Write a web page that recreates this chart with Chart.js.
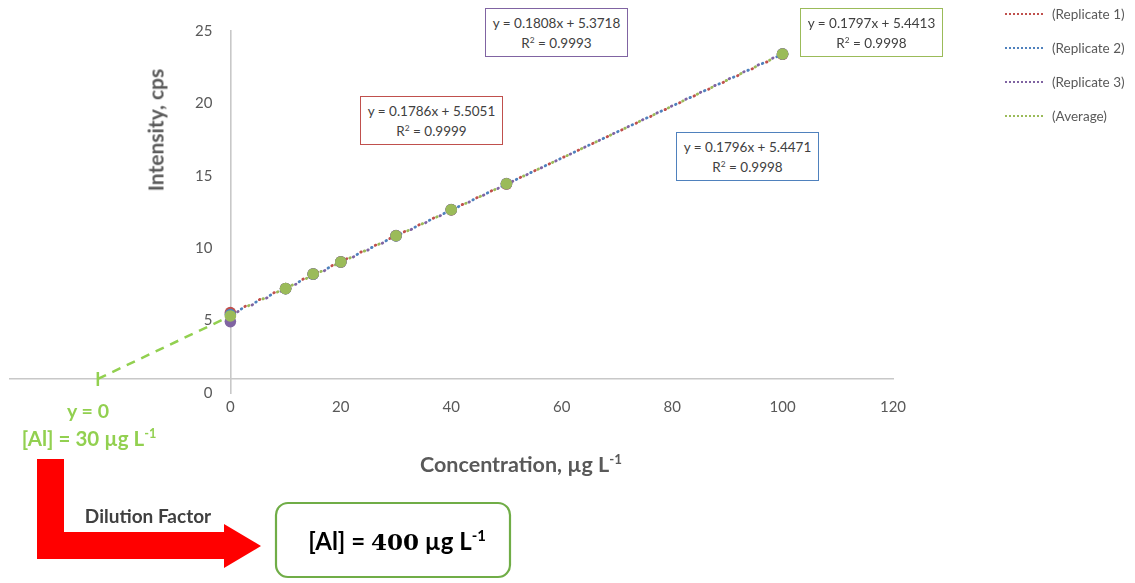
<!DOCTYPE html>
<html>
<head>
<meta charset="utf-8">
<script src="https://cdn.jsdelivr.net/npm/chart.js@4.4.1/dist/chart.umd.min.js"></script>
<style>
  html, body { margin: 0; padding: 0; background: #fff; }
  #wrap { position: relative; width: 1135px; height: 583px; overflow: hidden; font-family: Lato, "Open Sans", sans-serif; }
  canvas { position: absolute; left: 0; top: 0; }
  .eq { position: absolute; background: #fff; border: 1.5px solid; box-sizing: border-box;
        text-align: center; font-size: 13.5px; line-height: 20px; color: #404040; padding-top: 4px; }
  .lg { position: absolute; left: 1005px; font-size: 13.5px; color: #595959; height: 14px; line-height: 14px; }
  .lg span.ln { position: absolute; left: 0; top: 6px; width: 38px; border-top: 2px dotted; }
  .lg span.tx { position: absolute; left: 47px; white-space: nowrap; }
  .t { position: absolute; white-space: nowrap; }
  sup { font-size: 0.62em; vertical-align: 0.6em; line-height: 0; }
</style>
</head>
<body>
<div id="wrap">
  <canvas id="c" width="1135" height="583"></canvas>
</div>
<script>
// ---- data ----
const concentrations = [0, 10, 15, 20, 30, 40, 50, 100];
const replicate1 = [5.55, 7.22, 8.20, 9.06, 10.86, 12.65, 14.43, 23.39];
const replicate2 = [5.42, 7.21, 8.21, 9.05, 10.85, 12.66, 14.45, 23.41];
const replicate3 = [4.93, 7.20, 8.23, 9.04, 10.87, 12.67, 14.46, 23.42];
const average    = [5.32, 7.21, 8.22, 9.05, 10.86, 12.66, 14.45, 23.41];
const trendX = [0, 100];
const trend1 = [5.51, 23.37];
const trend2 = [5.45, 23.41];
const trend3 = [5.37, 23.45];
const trendAvg = [5.44, 23.41];
const extX = [-24, 0];
const extY = [0.97, 5.32];
const xTickLabels = [0, 20, 40, 60, 80, 100, 120];
const yTickLabels = [0, 5, 10, 15, 20, 25];
const seriesNames = ['(Replicate 1)', '(Replicate 2)', '(Replicate 3)', '(Average)'];
const equations = [
  ['y = 0.1786x + 5.5051', 'R² = 0.9999'],
  ['y = 0.1796x + 5.4471', 'R² = 0.9998'],
  ['y = 0.1808x + 5.3718', 'R² = 0.9993'],
  ['y = 0.1797x + 5.4413', 'R² = 0.9998']
];

const colors = ['#c0504d', '#4f81bd', '#8064a2', '#9bbb59'];
const extColor = '#92d050';

const pts = (xs, ys) => xs.map((x, i) => ({ x: x, y: ys[i] }));

function pointSet(label, ys, color, order) {
  return { type: 'scatter', label: label, data: pts(concentrations, ys), order: order,
           backgroundColor: color, borderColor: color, pointRadius: 5.8, borderWidth: 0, showLine: false };
}
function trendSet(label, ys, color, order, offset) {
  return { type: 'line', label: label + ' trend', data: pts(trendX, ys), order: order,
           borderColor: color, borderWidth: 2.8, borderDash: [0.6, 15.4], borderDashOffset: offset,
           borderCapStyle: 'round', pointRadius: 0, fill: false, tension: 0 };
}

const datasets = [
  pointSet(seriesNames[3], average, colors[3], 0),
  pointSet(seriesNames[2], replicate3, colors[2], 1),
  pointSet(seriesNames[1], replicate2, colors[1], 2),
  pointSet(seriesNames[0], replicate1, colors[0], 3),
  trendSet(seriesNames[0], trend1, colors[0], 5, 0),
  trendSet(seriesNames[1], trend2, colors[1], 6, 4),
  trendSet(seriesNames[2], trend3, colors[2], 7, 8),
  trendSet(seriesNames[3], trendAvg, colors[3], 8, 12),
  { type: 'line', label: 'extrapolation', data: pts(extX, extY), order: 9,
    borderColor: extColor, borderWidth: 2.5, borderDash: [9, 7], pointStyle: 'line',
    pointRotation: 90, pointRadius: [7, 0], pointBorderColor: extColor, pointBorderWidth: 2.5, fill: false }
];

// move the y tick labels to the left of the (value-positioned) y axis
const yLabelShift = {
  id: 'yLabelShift',
  beforeDraw(chart) {
    const items = chart.scales.y.getLabelItems();
    items.forEach(it => {
      if (!it._shifted) { it.options.translation[0] -= 18; it._shifted = true; }
    });
  }
};

new Chart(document.getElementById('c'), {
  type: 'scatter',
  data: { datasets: datasets },
  plugins: [yLabelShift],
  options: {
    responsive: false, animation: false, events: [],
    layout: { padding: { left: 8, right: 242, top: 31, bottom: 190 } },
    plugins: { legend: { display: false }, tooltip: { enabled: false } },
    scales: {
      x: {
        type: 'linear', min: -40, max: 120, position: { y: 0.97 },
        afterBuildTicks: s => { s.ticks = [-40, -20].concat(xTickLabels).map(v => ({ value: v })); },
        ticks: { autoSkip: false, maxRotation: 0, padding: 0, color: '#595959',
                 font: { family: 'Lato', size: 15 },
                 callback: v => (xTickLabels.includes(v) ? String(v) : '') },
        grid: { display: false, drawTicks: true, tickLength: 19 },
        border: { display: true, color: '#c8c8c8', width: 1.6 },
        afterFit: s => { s.height = 0; }
      },
      y: {
        type: 'linear', min: 0, max: 25, position: { x: 0 },
        afterBuildTicks: s => { s.ticks = yTickLabels.map(v => ({ value: v })); },
        ticks: { autoSkip: false, padding: 0, color: '#595959', font: { family: 'Lato', size: 15 } },
        grid: { display: false, drawTicks: false },
        border: { display: true, color: '#c8c8c8', width: 1.6 },
        afterFit: s => { s.width = 0; }
      }
    }
  }
});

// ---- overlay texts ----
const wrap = document.getElementById('wrap');
function add(html, cls, style) {
  const d = document.createElement('div');
  d.className = cls; d.innerHTML = html; Object.assign(d.style, style); wrap.appendChild(d); return d;
}
const boxPos = [
  { left: '360px', top: '96px' },
  { left: '676px', top: '132px' },
  { left: '485px', top: '8px' },
  { left: '800px', top: '8px' }
];
equations.forEach((e, i) => {
  add(e[0] + '<br>' + e[1].replace('²', '<sup>2</sup>'), 'eq',
      Object.assign({ width: '143px', height: '49px', borderColor: colors[i] }, boxPos[i]));
});
seriesNames.forEach((n, i) => {
  add('<span class="ln" style="border-top-color:' + colors[i] + '"></span><span class="tx">' + n + '</span>',
      'lg', { top: (7 + i * 34) + 'px' });
});
add('Intensity, cps', 't', { left: '155px', top: '130px', fontSize: '21px', fontWeight: 'bold', color: '#595959',
    transform: 'translate(-50%,-50%) rotate(-90deg)' });
add('Concentration, µg L<sup>-1</sup>', 't', { left: '521px', top: '464px', fontSize: '21.5px', fontWeight: 'bold',
    color: '#595959', transform: 'translate(-50%,-50%)' });
add('y = 0', 't', { left: '88px', top: '410px', fontSize: '19.5px', fontWeight: 'bold', color: extColor,
    transform: 'translate(-50%,-50%)' });
add('[Al] = 30 µg L<sup>-1</sup>', 't', { left: '89px', top: '438px', fontSize: '20.5px', fontWeight: 'bold',
    color: extColor, transform: 'translate(-50%,-50%)' });

// red L-shaped arrow and result box
const svgNS = 'http://www.w3.org/2000/svg';
const svg = document.createElementNS(svgNS, 'svg');
svg.setAttribute('width', '1135'); svg.setAttribute('height', '583');
svg.style.position = 'absolute'; svg.style.left = '0'; svg.style.top = '0';
const poly = document.createElementNS(svgNS, 'polygon');
poly.setAttribute('points', '37,459 64,459 64,532 224,532 224,524 261,546 224,568 224,559 37,559');
poly.setAttribute('fill', '#ff0000');
svg.appendChild(poly);
const rect = document.createElementNS(svgNS, 'rect');
rect.setAttribute('x', '276'); rect.setAttribute('y', '503'); rect.setAttribute('width', '234');
rect.setAttribute('height', '74'); rect.setAttribute('rx', '12'); rect.setAttribute('fill', '#fff');
rect.setAttribute('stroke', '#70ad47'); rect.setAttribute('stroke-width', '2.2');
svg.appendChild(rect);
wrap.appendChild(svg);

add('Dilution Factor', 't', { left: '148px', top: '515px', fontSize: '19px', fontWeight: 'bold', color: '#404040',
    transform: 'translate(-50%,-50%)' });
add('[Al] = <span style="font-family:\'DejaVu Serif\',\'Liberation Serif\',serif;font-size:23px">400</span> µg L<sup>-1</sup>',
    't', { left: '397px', top: '540px', fontSize: '24px', fontWeight: 'bold', color: '#000',
    transform: 'translate(-50%,-50%)' });
</script>
</body>
</html>
